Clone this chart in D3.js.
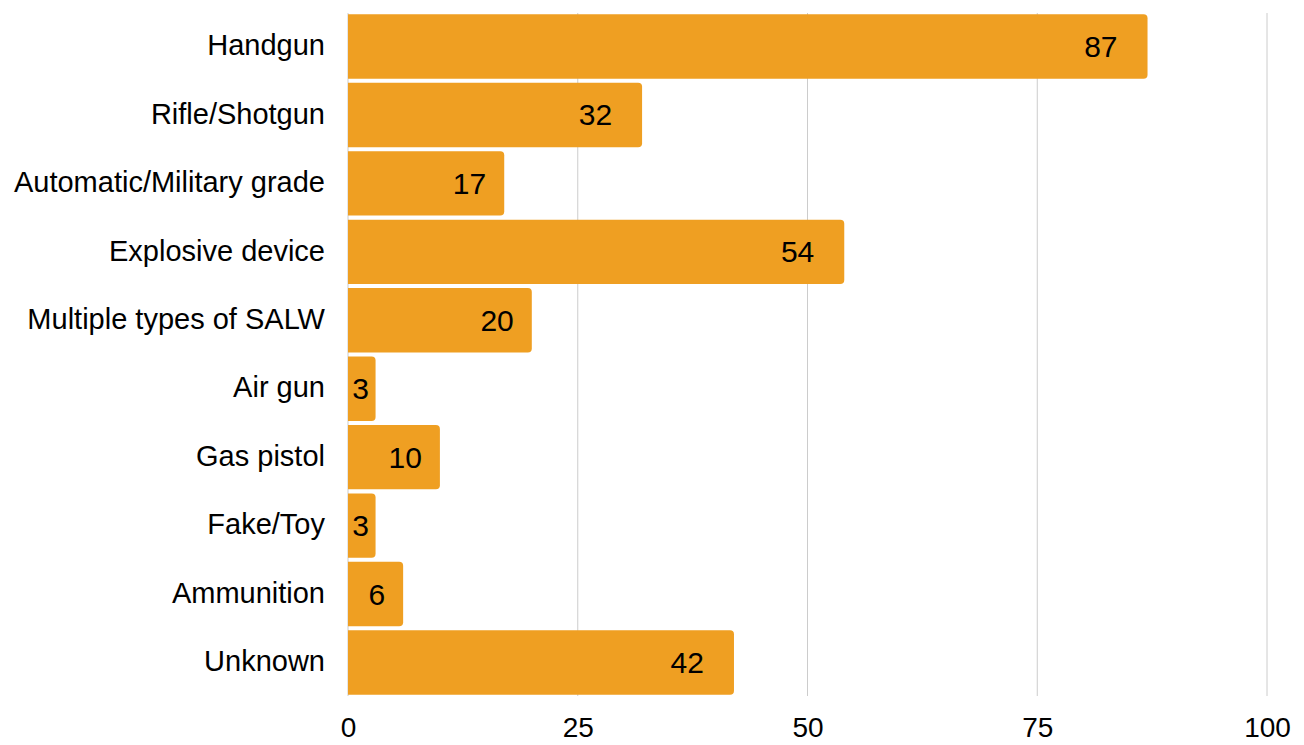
<!DOCTYPE html>
<html>
<head>
<meta charset="utf-8">
<script src="https://cdn.jsdelivr.net/npm/d3@7"></script>
<style>
  body { margin: 0; background: #fff; font-family: "Liberation Sans", Arial, sans-serif; }
</style>
</head>
<body>
<div id="chart"></div>
<script>
// data
const categories = ["Handgun", "Rifle/Shotgun", "Automatic/Military grade", "Explosive device",
  "Multiple types of SALW", "Air gun", "Gas pistol", "Fake/Toy", "Ammunition", "Unknown"];
const counts = [87, 32, 17, 54, 20, 3, 10, 3, 6, 42];
const xTicks = [0, 25, 50, 75, 100];

const W = 1304, H = 745;
const margin = { top: 13, right: 37, bottom: 49, left: 348 };
const width = W - margin.left - margin.right;
const height = H - margin.top - margin.bottom;

const svg = d3.select("#chart").append("svg")
  .attr("width", W).attr("height", H)
  .append("g")
  .attr("transform", `translate(${margin.left},${margin.top})`);

const x = d3.scaleLinear().domain([0, 100]).range([0, width]);
const y = d3.scaleBand().domain(categories).range([0, height]).paddingInner(0.06).paddingOuter(0.02);

// grid lines
svg.selectAll(".grid")
  .data(xTicks)
  .enter().append("line")
  .attr("x1", d => x(d)).attr("x2", d => x(d))
  .attr("y1", 0).attr("y2", height)
  .attr("stroke", "#cccccc").attr("stroke-width", 1);

// bars with rounded right end
const r = 4;
function barPath(d, i) {
  const x0 = x(0), x1 = x(d), y0 = y(categories[i]), h = y.bandwidth();
  const rr = Math.min(r, (x1 - x0) / 2);
  return `M${x0},${y0}H${x1 - rr}Q${x1},${y0} ${x1},${y0 + rr}V${y0 + h - rr}Q${x1},${y0 + h} ${x1 - rr},${y0 + h}H${x0}Z`;
}
svg.selectAll(".bar")
  .data(counts)
  .enter().append("path")
  .attr("class", "bar")
  .attr("d", barPath)
  .attr("fill", "#ef9f22");

// value labels (smaller inset on short bars)
svg.selectAll(".val")
  .data(counts)
  .enter().append("text")
  .attr("x", d => {
    const inset = x(d) < 200 ? 18 : 30;
    return Math.max(x(d) - inset, x(0) + 4 + String(d).length * 17);
  })
  .attr("y", (d, i) => y(categories[i]) + y.bandwidth() / 2)
  .attr("dy", "0.35em")
  .attr("text-anchor", "end")
  .style("font-size", "30px")
  .style("fill", "#000")
  .text(d => d);

// category labels
svg.selectAll(".cat")
  .data(categories)
  .enter().append("text")
  .attr("x", -23)
  .attr("y", d => y(d) + y.bandwidth() / 2)
  .attr("dy", "0.3em")
  .attr("text-anchor", "end")
  .style("font-size", "29px")
  .style("fill", "#000")
  .text(d => d);

// x axis
const xAxis = svg.append("g")
  .attr("transform", `translate(0,${height})`)
  .call(d3.axisBottom(x).tickValues(xTicks).tickSize(0).tickPadding(21));
xAxis.select(".domain").remove();
xAxis.selectAll("text")
  .style("font-size", "28px")
  .style("font-family", "Liberation Sans, Arial, sans-serif")
  .style("fill", "#000");
</script>
</body>
</html>
